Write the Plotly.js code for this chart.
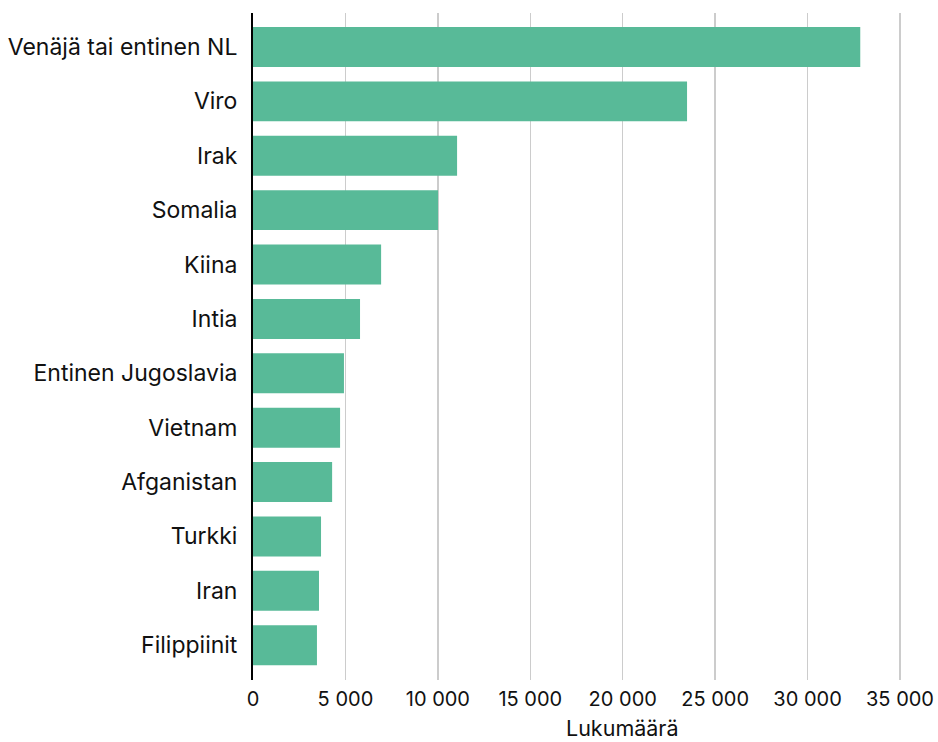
<!DOCTYPE html>
<html>
<head>
<meta charset="utf-8">
<script src="https://cdn.plot.ly/plotly-3.0.1.min.js"></script>
<style>html,body{margin:0;padding:0;background:#fff;}#chart{width:938px;height:742px;}</style>
</head>
<body>
<div id="chart"></div>
<script>
const countries = ["Venäjä tai entinen NL","Viro","Irak","Somalia","Kiina","Intia","Entinen Jugoslavia","Vietnam","Afganistan","Turkki","Iran","Filippiinit"];
const counts = [32850, 23480, 11040, 10010, 6930, 5790, 4920, 4710, 4280, 3680, 3570, 3460];
const xTicks = [0, 5000, 10000, 15000, 20000, 25000, 30000, 35000];
const xTitle = "Lukumäärä";

const trace = {
  type: "bar",
  orientation: "h",
  y: countries,
  x: counts,
  marker: {color: "#58BA98"},
  hoverinfo: "x+y"
};

const layout = {
  width: 938, height: 742,
  margin: {l: 253, r: 15, t: 13, b: 62},
  paper_bgcolor: "#fff", plot_bgcolor: "#fff",
  separators: ", ",
  font: {family: "Inter, Roboto, sans-serif", color: "#111", size: 20},
  bargap: 0.265,
  showlegend: false,
  xaxis: {
    range: [0, 36244],
    tickvals: xTicks,
    tickformat: ",d",
    showgrid: true, gridcolor: "#cccccc", gridwidth: 1.5,
    zeroline: false,
    showline: false,
    ticks: "",
    ticklabelstandoff: 5,
    tickfont: {size: 20}
  },
  yaxis: {
    type: "category",
    categoryorder: "array",
    categoryarray: countries,
    range: [11.64, -0.625],
    showgrid: false, zeroline: false,
    showline: true, linecolor: "#000", linewidth: 2,
    ticks: "",
    ticklabelstandoff: 9,
    tickfont: {size: 23}
  },
  annotations: [{
    text: xTitle,
    xref: "paper", yref: "paper",
    x: 0.551, y: -0.0725,
    xanchor: "center", yanchor: "middle",
    showarrow: false,
    borderpad: 0,
    font: {size: 21.5, color: "#111"}
  }]
};

Plotly.newPlot("chart", [trace], layout, {displayModeBar: false, staticPlot: true});
</script>
</body>
</html>
